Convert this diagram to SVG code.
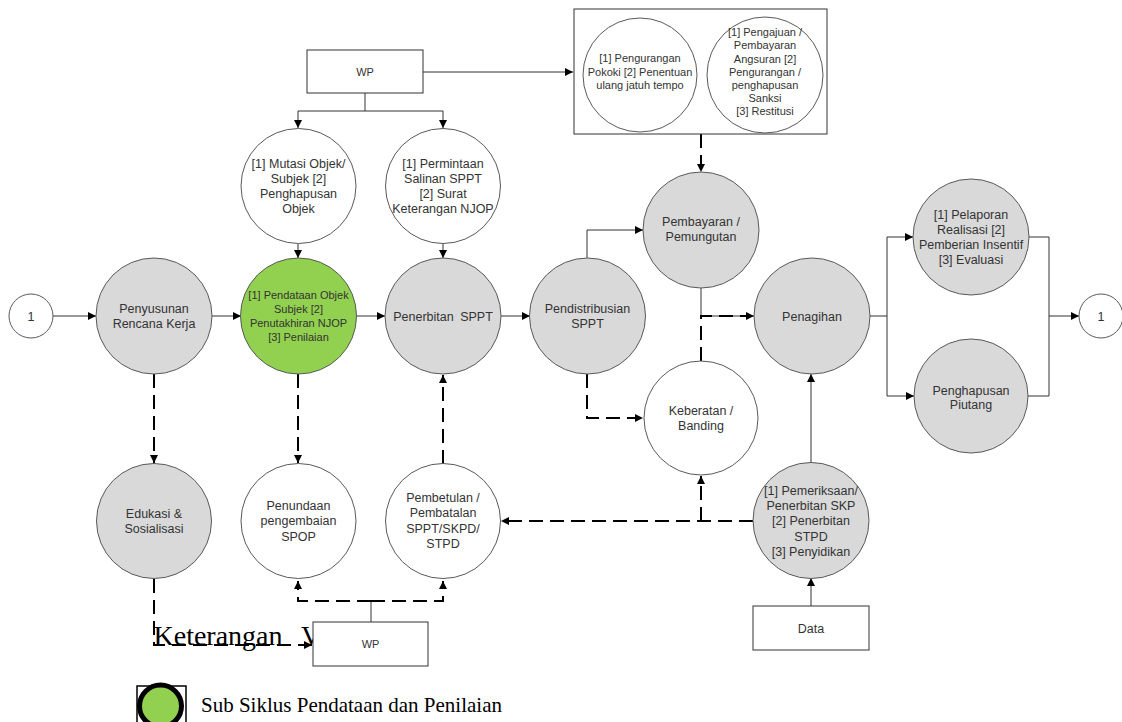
<svg xmlns="http://www.w3.org/2000/svg" width="1122" height="722" viewBox="0 0 1122 722">
<style>
  .g{fill:#d9d9d9;stroke:#595959;stroke-width:1}
  .w{fill:#ffffff;stroke:#595959;stroke-width:1}
  .gr{fill:#92d050;stroke:#595959;stroke-width:1}
  .box{fill:#ffffff;stroke:#333333;stroke-width:1}
  .t{font-family:"Liberation Sans",Arial,sans-serif;font-size:12.5px;fill:#333333;text-anchor:middle}
  .ts{font-family:"Liberation Sans",Arial,sans-serif;font-size:11px;fill:#333333;text-anchor:middle}
  .s{fill:none;stroke:#333333;stroke-width:1}
  .d{fill:none;stroke:#000000;stroke-width:2;stroke-dasharray:14 7}
  .serif{font-family:"Liberation Serif","Times New Roman",serif;fill:#000000}
</style>
<defs>
  <marker id="ah" markerUnits="userSpaceOnUse" markerWidth="9" markerHeight="9" refX="8" refY="4" orient="auto">
    <path d="M0,0 L8,4 L0,8 z" fill="#000000"/>
  </marker>
</defs>

<g id="connectors">
  <path class="s" d="M53,316 H96" marker-end="url(#ah)"/>
  <path class="s" d="M212,316 H241" marker-end="url(#ah)"/>
  <path class="s" d="M356,316 H385" marker-end="url(#ah)"/>
  <path class="s" d="M500,316 H530" marker-end="url(#ah)"/>
  <path class="s" d="M587,259 V230 H643" marker-end="url(#ah)"/>
  <path class="s" d="M701,288 V316 H754" marker-end="url(#ah)"/>
  <path class="s" d="M811,463 V374" marker-end="url(#ah)"/>
  <path class="s" d="M811,606 V578" marker-end="url(#ah)"/>
  <path class="s" d="M870,316 H887 V237 H913" marker-end="url(#ah)"/>
  <path class="s" d="M887,316 V396 H914" marker-end="url(#ah)"/>
  <path class="s" d="M1029,237 H1049 V396 H1027"/>
  <path class="s" d="M1049,316 H1079" marker-end="url(#ah)"/>
  <path class="s" d="M365,93 V111 H298 V128" marker-end="url(#ah)"/>
  <path class="s" d="M365,111 H443 V128" marker-end="url(#ah)"/>
  <path class="s" d="M423,72 H573" marker-end="url(#ah)"/>
  <path class="s" d="M298,244 V258" marker-end="url(#ah)"/>
  <path class="s" d="M443,244 V258" marker-end="url(#ah)"/>
  <path class="s" d="M371,622 V601"/>
  <path class="d" d="M701,134 V172" marker-end="url(#ah)"/>
  <path class="d" d="M701,361 V316 H746"/>
  <path class="d" d="M587,374 V418 H643" marker-end="url(#ah)"/>
  <path class="d" d="M753,521 H501" marker-end="url(#ah)"/>
  <path class="d" d="M701,521 V476" marker-end="url(#ah)"/>
  <path class="d" d="M443,464 V375" marker-end="url(#ah)"/>
  <path class="d" d="M154,374 V463" marker-end="url(#ah)"/>
  <path class="d" d="M298,374 V463" marker-end="url(#ah)"/>
  <path class="d" d="M371,601 H298 V581" marker-end="url(#ah)"/>
  <path class="d" d="M371,601 H443 V581" marker-end="url(#ah)"/>
  <path class="d" d="M154,579 V645 H312" marker-end="url(#ah)"/>
</g>

<g id="start1">
  <circle class="w" cx="31" cy="316" r="22"/>
  <text class="t" x="31" y="320.5">1</text>
</g>
<g id="end1">
  <circle class="w" cx="1101" cy="316" r="22"/>
  <text class="t" x="1101" y="320.5">1</text>
</g>

<g id="penyusunan">
  <circle class="g" cx="154" cy="316" r="58"/>
  <text class="t" x="154" y="312.5">Penyusunan</text>
  <text class="t" x="154" y="327.5">Rencana Kerja</text>
</g>
<g id="pendataan">
  <circle class="gr" cx="298.5" cy="316" r="58"/>
  <text class="ts" x="298.5" y="299">[1] Pendataan Objek</text>
  <text class="ts" x="298.5" y="313">Subjek [2]</text>
  <text class="ts" x="298.5" y="327">Penutakhiran NJOP</text>
  <text class="ts" x="298.5" y="341">[3] Penilaian</text>
</g>
<g id="penerbitan">
  <circle class="g" cx="443" cy="316" r="58"/>
  <text class="t" x="443" y="320.5" word-spacing="3">Penerbitan SPPT</text>
</g>
<g id="pendistribusian">
  <circle class="g" cx="587.5" cy="316" r="58"/>
  <text class="t" x="587.5" y="312.5">Pendistribusian</text>
  <text class="t" x="587.5" y="327.5">SPPT</text>
</g>
<g id="pembayaran">
  <circle class="g" cx="701" cy="230" r="58"/>
  <text class="t" x="701" y="225.5">Pembayaran /</text>
  <text class="t" x="701" y="240.5">Pemungutan</text>
</g>
<g id="penagihan">
  <circle class="g" cx="812" cy="316" r="58"/>
  <text class="t" x="812" y="320.5">Penagihan</text>
</g>
<g id="keberatan">
  <circle class="w" cx="701" cy="418" r="57"/>
  <text class="t" x="701" y="414.5">Keberatan /</text>
  <text class="t" x="701" y="429.5">Banding</text>
</g>
<g id="pemeriksaan">
  <circle class="g" cx="811" cy="520.5" r="58"/>
  <text class="t" x="811" y="494.5">[1] Pemeriksaan/</text>
  <text class="t" x="811" y="509.5">Penerbitan SKP</text>
  <text class="t" x="811" y="525">[2] Penerbitan</text>
  <text class="t" x="811" y="540.5">STPD</text>
  <text class="t" x="811" y="556">[3] Penyidikan</text>
</g>
<g id="pelaporan">
  <circle class="g" cx="971" cy="237" r="58"/>
  <text class="t" x="971" y="218.5">[1] Pelaporan</text>
  <text class="t" x="971" y="233.5">Realisasi [2]</text>
  <text class="t" x="971" y="249">Pemberian Insentif</text>
  <text class="t" x="971" y="263.5">[3] Evaluasi</text>
</g>
<g id="penghapusan-piutang">
  <circle class="g" cx="971" cy="396" r="57"/>
  <text class="t" x="971" y="394.5">Penghapusan</text>
  <text class="t" x="971" y="408.5">Piutang</text>
</g>
<g id="mutasi">
  <circle class="w" cx="298.5" cy="186" r="57.5"/>
  <text class="t" x="298.5" y="167.5">[1] Mutasi Objek/</text>
  <text class="t" x="298.5" y="182.5">Subjek [2]</text>
  <text class="t" x="298.5" y="197.5">Penghapusan</text>
  <text class="t" x="298.5" y="212.5">Objek</text>
</g>
<g id="permintaan">
  <circle class="w" cx="443" cy="186" r="57.5"/>
  <text class="t" x="443" y="167.5">[1] Permintaan</text>
  <text class="t" x="443" y="182.5">Salinan SPPT</text>
  <text class="t" x="443" y="197.5">[2] Surat</text>
  <text class="t" x="443" y="212.5">Keterangan NJOP</text>
</g>
<g id="edukasi">
  <circle class="g" cx="154" cy="521" r="57.5"/>
  <text class="t" x="154" y="517.5">Edukasi &amp;</text>
  <text class="t" x="154" y="532.5">Sosialisasi</text>
</g>
<g id="penundaan">
  <circle class="w" cx="298.5" cy="521" r="57.5"/>
  <text class="t" x="298.5" y="509.5">Penundaan</text>
  <text class="t" x="298.5" y="525">pengembaian</text>
  <text class="t" x="298.5" y="540.5">SPOP</text>
</g>
<g id="pembetulan">
  <circle class="w" cx="443" cy="521" r="57.5"/>
  <text class="t" x="443" y="501.5">Pembetulan /</text>
  <text class="t" x="443" y="517">Pembatalan</text>
  <text class="t" x="443" y="532.5">SPPT/SKPD/</text>
  <text class="t" x="443" y="547.5">STPD</text>
</g>

<g id="wp-top">
  <rect class="box" x="307" y="50" width="116" height="43"/>
  <text class="ts" x="365" y="76">WP</text>
</g>
<g id="keringanan-box">
  <rect class="box" x="574" y="9" width="253" height="125"/>
  <circle class="w" cx="640" cy="75" r="57"/>
  <text class="ts" x="640" y="62">[1] Pengurangan</text>
  <text class="ts" x="640" y="76">Pokoki [2] Penentuan</text>
  <text class="ts" x="640" y="89">ulang jatuh tempo</text>
  <circle class="w" cx="765" cy="75" r="58"/>
  <text class="ts" x="765" y="36">[1] Pengajuan /</text>
  <text class="ts" x="765" y="49">Pembayaran</text>
  <text class="ts" x="765" y="63">Angsuran [2]</text>
  <text class="ts" x="765" y="76">Pengurangan  /</text>
  <text class="ts" x="765" y="89">penghapusan</text>
  <text class="ts" x="765" y="102">Sanksi</text>
  <text class="ts" x="765" y="115">[3] Restitusi</text>
</g>
<g id="data">
  <rect class="box" x="753" y="606" width="116" height="44"/>
  <text class="t" x="811" y="632.5">Data</text>
</g>

<g id="keterangan">
  <text class="serif" x="153.5" y="645" font-size="28">Keterangan <tspan x="301">V</tspan></text>
</g>
<g id="wp-bottom">
  <rect class="box" x="313" y="622" width="115" height="44"/>
  <text class="ts" x="370.5" y="648">WP</text>
</g>

<g id="legend">
  <rect x="137" y="686" width="49" height="40" fill="#ffffff" stroke="#000000" stroke-width="1.5"/>
  <circle cx="160.5" cy="706" r="21" fill="#92d050" stroke="#000000" stroke-width="5"/>
  <text class="serif" x="201" y="712" font-size="21">Sub Siklus Pendataan dan Penilaian</text>
</g>
</svg>
